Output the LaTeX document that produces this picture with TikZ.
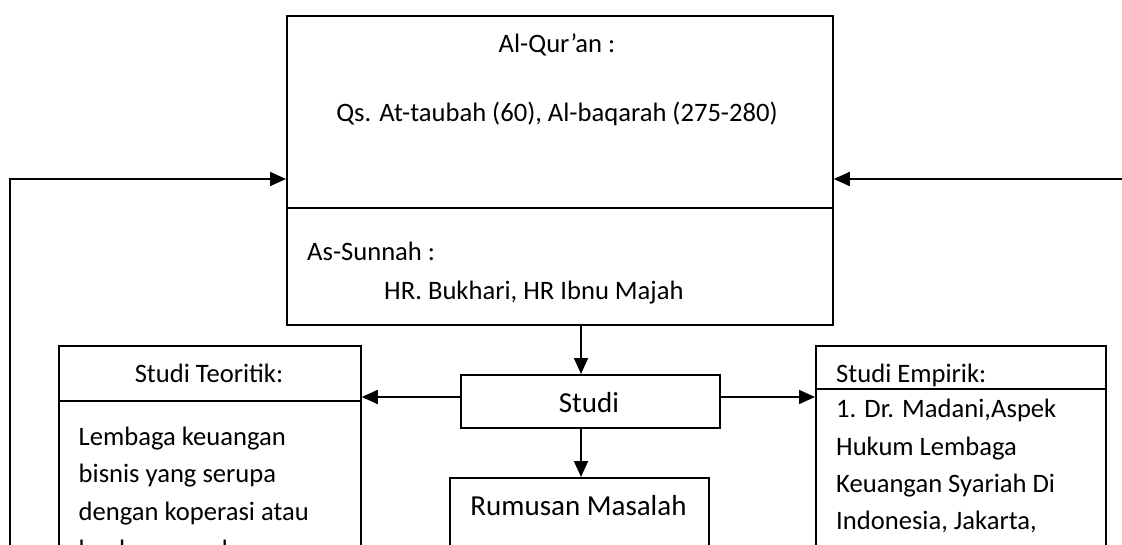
\documentclass[tikz,border=0pt]{standalone}
\usepackage{fontspec}
\setmainfont{Carlito}
\usetikzlibrary{arrows.meta}

\tikzset{
  box/.style={draw, line width=1.8pt, inner sep=0pt, anchor=north west},
  txt/.style={inner sep=0pt, font=\fontsize{26.6}{37}\selectfont},
  bigtxt/.style={inner sep=0pt, font=\fontsize{29}{35}\selectfont},
  rule/.style={line width=1.8pt},
  arr/.style={line width=1.8pt, -{Triangle[length=16pt,width=14pt]}},
}

\begin{document}
\begin{tikzpicture}[x=1pt, y=-1pt]
  \path[use as bounding box, clip] (0,0) rectangle (1122,545);
  \fill[white] (0,0) rectangle (1122,545);

  % sources box: Al-Qur'an and As-Sunnah
  \node[box, minimum width=546pt, minimum height=309pt] (src) at (286,15) {};
  \coordinate (srcdiv) at (0,208);
  \draw[rule] (src.west |- srcdiv) -- (src.east |- srcdiv);
  \node[txt, anchor=base] (quran) at (557,53) {Al-Qur’an :};
  \node[txt, anchor=base] (qs) at (557,122) {Qs. At-taubah (60), Al-baqarah (275-280)};
  \node[txt, anchor=base west] (sunnah) at (307,261) {As-Sunnah :};
  \node[txt, anchor=base west] (hr) at (384,300) {HR. Bukhari, HR Ibnu Majah};

  % central study box
  \node[box, minimum width=259pt, minimum height=53pt] (studi) at (460,374) {};
  \node[bigtxt, anchor=base] (studitxt) at (589,412) {Studi};

  % problem statement box
  \node[box, minimum width=259pt, minimum height=150pt] (rumus) at (449,477) {};
  \node[bigtxt, anchor=base] (rumustxt) at (578.5,515) {Rumusan Masalah};

  % theoretical study box
  \node[box, minimum width=302pt, minimum height=280pt] (teori) at (58,345) {};
  \coordinate (teodiv) at (0,401);
  \draw[rule] (teori.west |- teodiv) -- (teori.east |- teodiv);
  \node[txt, anchor=base] (teotitle) at (209,382) {Studi Teoritik:};
  \foreach \line [count=\i] in {Lembaga keuangan, bisnis yang serupa, dengan koperasi atau, bank umum dan}
    \node[txt, anchor=base west] (teo\i) at (78.5,{445+37.7*(\i-1)}) {\line};

  % empirical study box
  \node[box, minimum width=290pt, minimum height=280pt] (empir) at (815,345) {};
  \coordinate (empdiv) at (0,389);
  \draw[rule] (empir.west |- empdiv) -- (empir.east |- empdiv);
  \node[txt, anchor=base west] (emptitle) at (836,382) {Studi Empirik:};
  \node[txt, anchor=base west] (emp1) at (836,417) {1. Dr. Madani,Aspek};
  \node[txt, anchor=base west] (emp2) at (836,455) {Hukum Lembaga};
  \node[txt, anchor=base west] (emp3) at (836,492) {Keuangan Syariah Di};
  \node[txt, anchor=base west] (emp4) at (836,529) {Indonesia, Jakarta,};

  % connectors
  \coordinate (axis) at (581,0);
  \coordinate (mid) at (0,397);
  \coordinate (feed) at (0,179);
  \coordinate (lbot) at (10,600);
  \coordinate (rin) at (1130,179);

  \draw[arr] (src.south -| axis) -- (studi.north -| axis);
  \draw[arr] (studi.south -| axis) -- (rumus.north -| axis);
  \draw[arr] (studi.west |- mid) -- (teori.east |- mid);
  \draw[arr] (studi.east |- mid) -- (empir.west |- mid);
  \draw[arr] (lbot) |- (src.west |- feed);
  \draw[arr] (rin) -- (src.east |- feed);
\end{tikzpicture}
\end{document}
